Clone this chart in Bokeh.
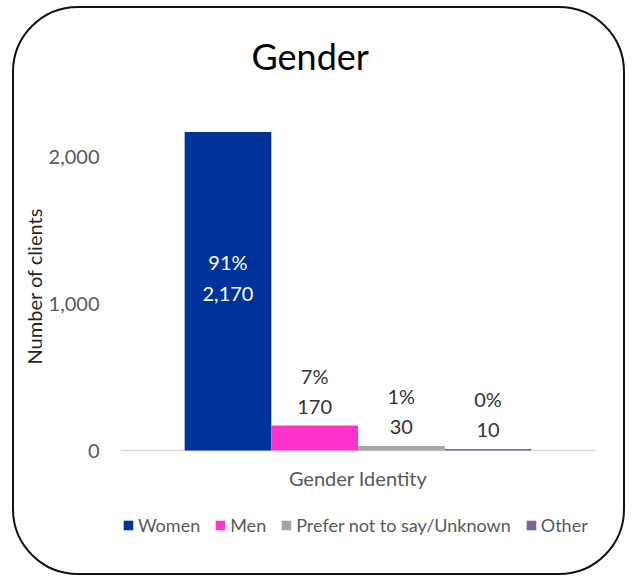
from bokeh.plotting import figure
from bokeh.models import (Range1d, ColumnDataSource, Legend, LegendItem,
                          NumeralTickFormatter, FixedTicker, Title, Span)
from bokeh.embed import file_html
from bokeh.resources import INLINE
from bokeh.core.properties import value

# ---- data ----
categories = ["Women", "Men", "Prefer not to say/Unknown", "Other"]
counts = [2170, 170, 30, 10]
percents = ["91%", "7%", "1%", "0%"]
colors = ["#003399", "#FF33CC", "#A5A5A5", "#76679B"]
y_ticks = [0, 1000, 2000]
title_text = "Gender"
y_label = "Number of clients"
x_label = "Gender Identity"

FONT = "Lato"

xs = list(range(len(categories)))
labels = [f"{p}\n{c:,}" for p, c in zip(percents, counts)]
src = ColumnDataSource(dict(x=xs, cat=categories, count=counts, color=colors, label=labels))
inside = ColumnDataSource(dict(x=xs[:1], y=[c / 2 for c in counts[:1]], label=labels[:1]))
outside = ColumnDataSource(dict(x=xs[1:], y=counts[1:], label=labels[1:]))

p = figure(width=613, height=569, output_backend="svg", toolbar_location=None,
           x_range=Range1d(-1.24, len(categories) + 0.24),
           y_range=Range1d(-647, 2500),
           x_axis_location=None,
           min_border_left=106, min_border_right=32, min_border_top=75, min_border_bottom=32)
p.margin = (6, 0, 0, 12)
p.styles = {"border": "2px solid #111111", "border-radius": "66px"}
p.border_fill_color = None
p.background_fill_color = None
p.outline_line_color = None
p.grid.visible = False

t = Title(text=title_text, align="left", offset=131, text_font=FONT,
          text_font_size="36px", text_font_style="normal", text_color="#000000", standoff=12)
p.add_layout(t, "above")

# baseline (category axis line)
p.add_layout(Span(location=0, dimension="width", line_color="#D9D9D9", line_width=1.5,
                  level="underlay"))

r = p.vbar(x="x", top="count", width=1.0, fill_color="color", line_color=None, source=src)

p.text(x="x", y="y", text="label", source=inside, text_align="center", text_baseline="middle",
       y_offset=-14, text_color="#FFFFFF", text_font=value(FONT), text_font_size="20px",
       text_line_height=1.3)
p.text(x="x", y="y", text="label", source=outside, text_align="center", text_baseline="bottom",
       y_offset=-8, text_color="#333333", text_font=value(FONT), text_font_size="20px",
       text_line_height=1.25)

# category axis title
p.text(x=[(len(categories) - 1) / 2], y=[0], text=[x_label], text_align="center",
       text_baseline="middle", y_offset=27, text_color="#595959", text_font=value(FONT),
       text_font_size="20px")

# y axis
ya = p.yaxis[0]
ya.ticker = FixedTicker(ticks=y_ticks)
ya.formatter = NumeralTickFormatter(format="0,0")
ya.axis_line_color = None
ya.major_tick_line_color = None
ya.minor_tick_line_color = None
ya.major_label_standoff = 15
ya.major_label_text_color = "#595959"
ya.major_label_text_font = FONT
ya.major_label_text_font_size = "20px"

yt = Title(text=y_label, align="left", offset=181, text_font=FONT, text_font_size="20px",
           text_font_style="normal", text_color="#262626", standoff=0)
p.add_layout(yt, "left")

legend = Legend(items=[LegendItem(label=c, renderers=[r], index=i) for i, c in enumerate(categories)],
                orientation="horizontal", location=(2, 9))
legend.label_text_font = FONT
legend.label_text_font_size = "18px"
legend.label_text_color = "#595959"
legend.glyph_width = 12
legend.glyph_height = 12
legend.label_standoff = 4
legend.spacing = 14
legend.padding = 0
legend.margin = 0
legend.border_line_color = None
legend.background_fill_alpha = 0
p.add_layout(legend)

open("out.html", "w").write(file_html(p, INLINE))
